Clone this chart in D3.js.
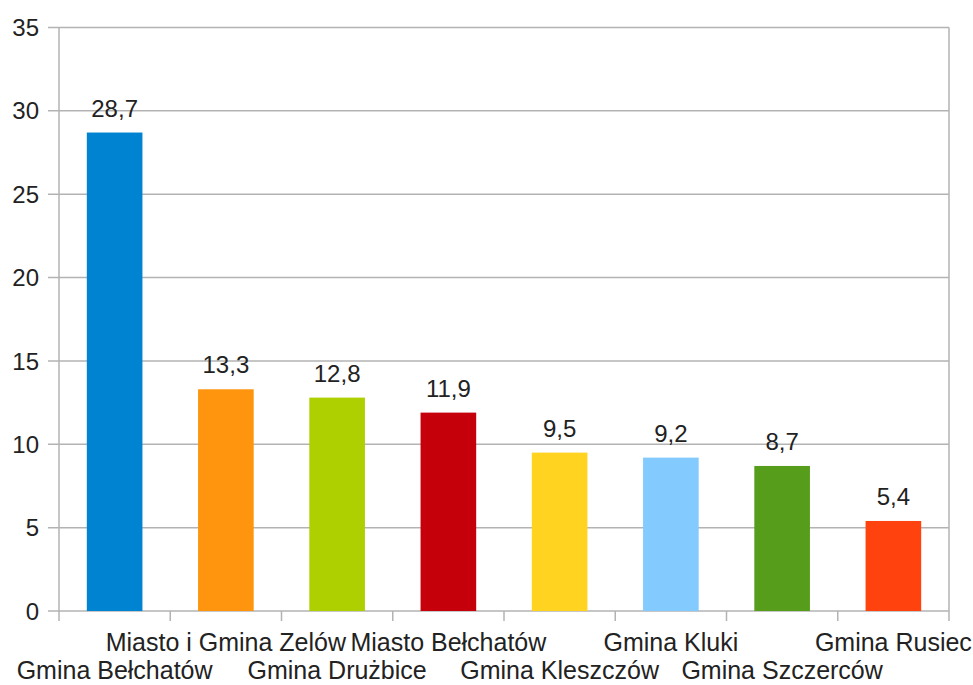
<!DOCTYPE html>
<html lang="pl">
<meta charset="UTF-8">
<style>
body {margin:0; background:#fff; font-family: "Liberation Sans", Arial, sans-serif}
</style>
<body>
<div id="chart"></div>
<script src="https://d3js.org/d3.v7.min.js"></script>
<script>
// data
var categories = ["Gmina Bełchatów", "Miasto i Gmina Zelów", "Gmina Drużbice", "Miasto Bełchatów",
                  "Gmina Kleszczów", "Gmina Kluki", "Gmina Szczerców", "Gmina Rusiec"]
var values = [28.7, 13.3, 12.8, 11.9, 9.5, 9.2, 8.7, 5.4]
var yTicks = [0, 5, 10, 15, 20, 25, 30, 35]
var colors = ["#0084d1", "#ff950e", "#aecf00", "#c5000b", "#ffd320", "#83caff", "#579d1c", "#ff420e"]

var W = 973, H = 685
var margin = {top: 27.5, right: 24, bottom: 74, left: 59}
var width = W - margin.left - margin.right,
    height = H - margin.top - margin.bottom

var svg = d3.select("#chart").append("svg")
    .attr("width", W).attr("height", H)
  .append("g")
    .attr("transform", "translate(" + margin.left + "," + margin.top + ")")

var x = d3.scaleBand().domain(categories).range([0, width]).paddingInner(0.5).paddingOuter(0.25)
var xb = d3.scaleBand().domain(categories).range([0, width])  // for tick marks at band edges
var y = d3.scaleLinear().domain([0, 35]).range([height, 0])

var grey = "#b3b3b3"

// horizontal grid + y ticks
svg.append("g").selectAll("line")
  .data(yTicks).enter().append("line")
    .attr("x1", -11).attr("x2", width)
    .attr("y1", function(d){ return y(d) }).attr("y2", function(d){ return y(d) })
    .style("stroke", grey).style("stroke-width", 1.5)

svg.append("g").selectAll("text")
  .data(yTicks).enter().append("text")
    .attr("x", -20).attr("y", function(d){ return y(d) })
    .attr("dy", "0.36em")
    .attr("text-anchor", "end")
    .style("font-size", "24px").style("fill", "#222")
    .text(function(d){ return d })

// left axis + right border
svg.append("line").attr("x1", 0).attr("x2", 0).attr("y1", 0).attr("y2", height)
  .style("stroke", grey).style("stroke-width", 1.5)
svg.append("line").attr("x1", width).attr("x2", width).attr("y1", 0).attr("y2", height + 10)
  .style("stroke", grey).style("stroke-width", 1.5)

// x tick marks at category boundaries
var edges = categories.map(function(c){ return xb(c) })
svg.append("g").selectAll("line")
  .data(edges).enter().append("line")
    .attr("x1", function(d){ return d }).attr("x2", function(d){ return d })
    .attr("y1", height).attr("y2", height + 10)
    .style("stroke", grey).style("stroke-width", 1.5)

// bars
svg.append("g").selectAll("rect")
  .data(values).enter().append("rect")
    .attr("x", function(d, i){ return x(categories[i]) })
    .attr("y", function(d){ return y(d) })
    .attr("width", x.bandwidth())
    .attr("height", function(d){ return height - y(d) })
    .style("fill", function(d, i){ return colors[i] })

// value labels
svg.append("g").selectAll("text")
  .data(values).enter().append("text")
    .attr("x", function(d, i){ return x(categories[i]) + x.bandwidth() / 2 })
    .attr("y", function(d){ return y(d) - 16 })
    .attr("text-anchor", "middle")
    .style("font-size", "24px").style("fill", "#222")
    .text(function(d){ return String(d).replace(".", ",") })

// category labels, staggered on two lines
svg.append("g").selectAll("text")
  .data(categories).enter().append("text")
    .attr("x", function(d){ return xb(d) + xb.bandwidth() / 2 })
    .attr("y", function(d, i){ return height + (i % 2 == 0 ? 68 : 40) })
    .attr("text-anchor", "middle")
    .style("font-size", "25px").style("fill", "#222")
    .text(function(d){ return d })
</script>
</body>
</html>
